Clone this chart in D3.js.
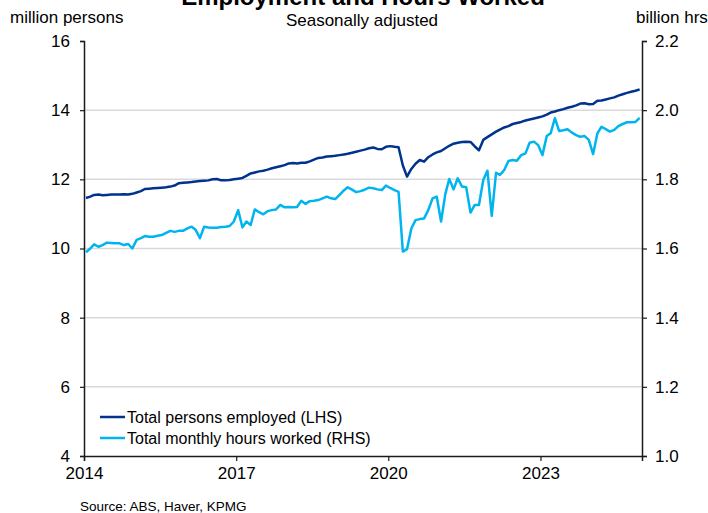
<!DOCTYPE html>
<html>
<head>
<meta charset="utf-8">
<script src="https://cdn.jsdelivr.net/npm/d3@7"></script>
<style>
  body { margin: 0; background: #fff; }
  svg { display: block; }
  text { font-family: "Liberation Sans", Arial, sans-serif; fill: #000; }
</style>
</head>
<body>
<svg id="chart" width="708" height="513"></svg>
<script>
// Monthly series, January 2014 to December 2024
const firstMonth = new Date(2014, 0, 15);

// Total persons employed, million persons (left axis)
const employed = [
  11.46, 11.50, 11.55, 11.56, 11.54, 11.55, 11.56, 11.56, 11.56, 11.57, 11.56, 11.58,
  11.62, 11.66, 11.72, 11.73, 11.74, 11.75, 11.76, 11.77, 11.79, 11.82, 11.89, 11.90,
  11.91, 11.92, 11.94, 11.95, 11.96, 11.97, 12.00, 12.01, 11.97, 11.97, 11.98, 12.00,
  12.02, 12.04, 12.10, 12.17, 12.20, 12.23, 12.25, 12.28, 12.32, 12.35, 12.38, 12.41,
  12.46, 12.47, 12.46, 12.48, 12.48, 12.52, 12.57, 12.62, 12.63, 12.66, 12.67, 12.68,
  12.70, 12.72, 12.74, 12.77, 12.80, 12.83, 12.86, 12.90, 12.92, 12.88, 12.87, 12.94,
  12.96, 12.94, 12.93, 12.40, 12.08, 12.30, 12.45, 12.56, 12.51, 12.64, 12.72, 12.78,
  12.82, 12.90, 12.97, 13.03, 13.06, 13.08, 13.09, 13.08, 12.95, 12.84, 13.14, 13.22,
  13.30, 13.38, 13.44, 13.50, 13.54, 13.60, 13.63, 13.66, 13.70, 13.73, 13.76, 13.79,
  13.82, 13.87, 13.93, 13.96, 14.00, 14.03, 14.07, 14.10, 14.14, 14.19, 14.20, 14.17,
  14.18, 14.27, 14.28, 14.31, 14.34, 14.37, 14.42, 14.46, 14.50, 14.53, 14.56, 14.60
];

// Total monthly hours worked, billion hours (right axis)
const hoursWorked = [
  1.589, 1.600, 1.612, 1.605, 1.610, 1.617, 1.616, 1.615, 1.615, 1.610, 1.613, 1.600,
  1.625, 1.630, 1.636, 1.634, 1.634, 1.637, 1.639, 1.645, 1.651, 1.648, 1.651, 1.651,
  1.658, 1.663, 1.654, 1.630, 1.663, 1.661, 1.660, 1.660, 1.662, 1.663, 1.665, 1.678,
  1.711, 1.661, 1.678, 1.668, 1.713, 1.705, 1.699, 1.708, 1.711, 1.713, 1.726, 1.719,
  1.720, 1.719, 1.720, 1.738, 1.729, 1.737, 1.738, 1.740, 1.745, 1.750, 1.745, 1.743,
  1.755, 1.768, 1.777, 1.770, 1.763, 1.766, 1.770, 1.776, 1.774, 1.771, 1.769, 1.782,
  1.775, 1.769, 1.764, 1.591, 1.598, 1.658, 1.682, 1.685, 1.687, 1.711, 1.745, 1.750,
  1.678, 1.758, 1.801, 1.771, 1.803, 1.779, 1.777, 1.704, 1.726, 1.726, 1.798, 1.825,
  1.694, 1.819, 1.813, 1.827, 1.853, 1.856, 1.854, 1.870, 1.875, 1.906, 1.909, 1.899,
  1.870, 1.925, 1.933, 1.977, 1.940, 1.942, 1.945, 1.935, 1.928, 1.923, 1.925, 1.914,
  1.873, 1.933, 1.952, 1.945, 1.938, 1.943, 1.954, 1.960, 1.965, 1.965, 1.966, 1.978
];

const leftTicks = [4, 6, 8, 10, 12, 14, 16];
const rightTicks = [1.0, 1.2, 1.4, 1.6, 1.8, 2.0, 2.2];
const xTickYears = [2014, 2017, 2020, 2023];

const seriesNames = ["Total persons employed (LHS)", "Total monthly hours worked (RHS)"];
const seriesColors = ["#00338D", "#00B4F0"];

const dates = employed.map((_, i) => d3.timeMonth.offset(firstMonth, i));

const svg = d3.select("#chart");
const plot = { left: 84, right: 642, top: 41, bottom: 456 };

const x = d3.scaleTime()
  .domain([new Date(2014, 0, 1), new Date(2025, 0, 1)])
  .range([plot.left, plot.right]);
const yL = d3.scaleLinear().domain([4, 16]).range([plot.bottom, plot.top]);
const yR = d3.scaleLinear().domain([1.0, 2.2]).range([plot.bottom, plot.top]);

// Horizontal gridlines
svg.append("g")
  .selectAll("line")
  .data(leftTicks.filter(t => t > 4 && t < 16))
  .join("line")
  .attr("x1", plot.left).attr("x2", plot.right)
  .attr("y1", d => yL(d)).attr("y2", d => yL(d))
  .attr("stroke", "#d9d9d9").attr("stroke-width", 1.5);

// Axes
const fontSize = 17;
function styleAxis(g) {
  g.select(".domain").attr("stroke", "#1a1a1a").attr("stroke-width", 1.5);
  g.selectAll(".tick line").attr("stroke", "#1a1a1a").attr("stroke-width", 1.2);
  g.selectAll(".tick text")
    .attr("font-size", fontSize)
    .attr("font-family", "'Liberation Sans', Arial, sans-serif")
    .attr("fill", "#000");
}

svg.append("g")
  .attr("transform", `translate(${plot.left},0)`)
  .call(d3.axisLeft(yL).tickValues(leftTicks).tickFormat(d3.format("d")).tickSizeOuter(0).tickSize(4).tickPadding(10))
  .call(styleAxis);

svg.append("g")
  .attr("transform", `translate(${plot.right},0)`)
  .call(d3.axisRight(yR).tickValues(rightTicks).tickFormat(d3.format(".1f")).tickSizeOuter(0).tickSize(5).tickPadding(8))
  .call(styleAxis);

svg.append("g")
  .attr("transform", `translate(0,${plot.bottom})`)
  .call(d3.axisBottom(x).tickValues(xTickYears.map(yr => new Date(yr, 0, 1)))
    .tickFormat(d3.timeFormat("%Y")).tickSizeOuter(0).tickSize(5).tickPadding(6))
  .call(styleAxis);

// Series lines
const lineL = d3.line().x((d, i) => x(dates[i])).y(d => yL(d));
const lineR = d3.line().x((d, i) => x(dates[i])).y(d => yR(d));

svg.append("path")
  .datum(hoursWorked)
  .attr("d", lineR)
  .attr("fill", "none")
  .attr("stroke", seriesColors[1])
  .attr("stroke-width", 2.5)
  .attr("stroke-linejoin", "round");

svg.append("path")
  .datum(employed)
  .attr("d", lineL)
  .attr("fill", "none")
  .attr("stroke", seriesColors[0])
  .attr("stroke-width", 2.5)
  .attr("stroke-linejoin", "round");

// Titles and axis units
svg.append("text")
  .attr("x", 363).attr("y", 5)
  .attr("text-anchor", "middle")
  .attr("font-size", 24).attr("font-weight", "bold")
  .text("Employment and Hours Worked");

svg.append("text")
  .attr("x", 362).attr("y", 26)
  .attr("text-anchor", "middle")
  .attr("font-size", fontSize)
  .text("Seasonally adjusted");

svg.append("text")
  .attr("x", 10).attr("y", 23)
  .attr("font-size", fontSize)
  .text("million persons");

svg.append("text")
  .attr("x", 636).attr("y", 23)
  .attr("font-size", fontSize)
  .text("billion hrs");

// Legend
const legend = svg.append("g")
  .selectAll("g")
  .data(seriesNames)
  .join("g")
  .attr("transform", (d, i) => `translate(100,${417 + i * 21})`);
legend.append("line")
  .attr("x1", 0).attr("x2", 25)
  .attr("stroke", (d, i) => seriesColors[i])
  .attr("stroke-width", 2.5);
legend.append("text")
  .attr("x", 27).attr("dy", "0.35em")
  .attr("font-size", 16)
  .text(d => d);

// Source note
svg.append("text")
  .attr("x", 80).attr("y", 511)
  .attr("font-size", 13.5)
  .text("Source: ABS, Haver, KPMG");
</script>
</body>
</html>
